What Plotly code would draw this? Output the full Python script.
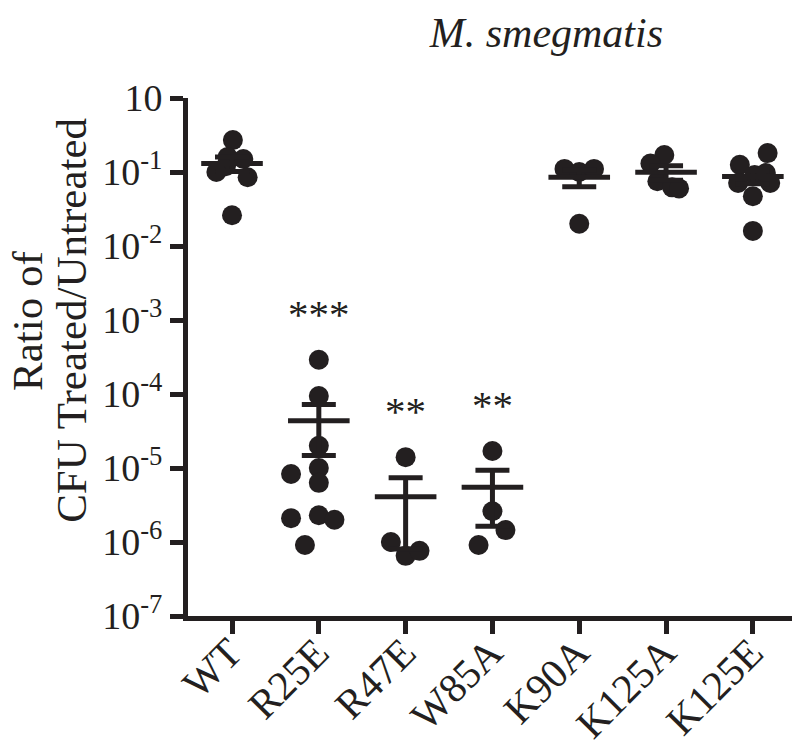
import numpy as np
import plotly.graph_objects as go

categories = ["WT", "R25E", "R47E", "W85A", "K90A", "K125A", "K125E"]

wt = [0.27, 0.16, 0.15, 0.12, 0.10, 0.085, 0.026]
r25e = [2.9e-4, 9.4e-5, 2.0e-5, 1.0e-5, 6.3e-6, 8.3e-6, 2.1e-6, 2.3e-6, 2.0e-6, 9.1e-7]
r47e = [1.4e-5, 1.0e-6, 6.5e-7, 7.6e-7]
w85a = [1.7e-5, 2.6e-6, 1.45e-6, 9.1e-7]
k90a = [0.11, 0.10, 0.11, 0.020]
k125a = [0.17, 0.13, 0.075, 0.062, 0.06]
k125e = [0.18, 0.125, 0.091, 0.097, 0.071, 0.071, 0.047, 0.016]

# horizontal scatter offsets (category units)
wt_off = [0.01, -0.05, 0.13, -0.07, -0.18, 0.18, 0.0]
r25e_off = [0.0, 0.0, 0.0, 0.0, 0.0, -0.32, -0.32, 0.0, 0.18, -0.16]
r47e_off = [0.0, -0.17, 0.0, 0.16]
w85a_off = [0.0, 0.0, 0.15, -0.16]
k90a_off = [-0.17, 0.0, 0.17, 0.0]
k125a_off = [-0.02, -0.18, -0.1, 0.07, 0.15]
k125e_off = [0.17, -0.15, 0.02, 0.15, -0.17, 0.2, 0.0, 0.0]

significance = ["", "***", "**", "**", "", "", ""]

ytick_vals = [1, 1e-1, 1e-2, 1e-3, 1e-4, 1e-5, 1e-6, 1e-7]
ytick_text = ["10", "10<sup>-1</sup>", "10<sup>-2</sup>", "10<sup>-3</sup>",
              "10<sup>-4</sup>", "10<sup>-5</sup>", "10<sup>-6</sup>", "10<sup>-7</sup>"]

ytitle_lines = ["Ratio of", "CFU Treated/Untreated"]

groups = [wt, r25e, r47e, w85a, k90a, k125a, k125e]
offsets = [wt_off, r25e_off, r47e_off, w85a_off, k90a_off, k125a_off, k125e_off]

INK = "#231f20"
FONT = "Liberation Serif, Times New Roman, serif"

fig = go.Figure()

xs, ys = [], []
for i, (vals, offs) in enumerate(zip(groups, offsets)):
    for v, o in zip(vals, offs):
        xs.append(i + o)
        ys.append(v)

fig.add_trace(go.Scatter(
    x=xs, y=ys, mode="markers",
    marker=dict(size=20, color=INK, line=dict(width=0)),
    cliponaxis=False, showlegend=False, hoverinfo="skip"))

means = [float(np.mean(g)) for g in groups]
sems = [float(np.std(g, ddof=1) / np.sqrt(len(g))) for g in groups]

fig.add_trace(go.Scatter(
    x=list(range(len(categories))), y=means, mode="markers",
    marker=dict(symbol="line-ew", size=44, color=INK,
                line=dict(width=5, color=INK)),
    error_y=dict(type="data", array=sems, arrayminus=sems,
                 color=INK, thickness=5, width=17),
    cliponaxis=False, showlegend=False, hoverinfo="skip"))

for i, s in enumerate(significance):
    if s:
        fig.add_annotation(
            x=i, y=np.log10(max(groups[i])) + 0.62, xref="x", yref="y",
            text=s, showarrow=False,
            font=dict(family=FONT, size=41, color=INK))

# two-line y-axis title, placed line by line
for line, xpos in zip(ytitle_lines, [-0.262, -0.19]):
    fig.add_annotation(
        text=line, textangle=-90,
        xref="paper", yref="paper", x=xpos, y=0.57,
        xanchor="center", yanchor="middle", showarrow=False,
        font=dict(family=FONT, size=43, color=INK))

fig.update_layout(
    width=800, height=749,
    margin=dict(l=180, r=10, t=90, b=141),
    paper_bgcolor="white", plot_bgcolor="white",
    font=dict(family=FONT, color=INK),
    title=dict(text="<i>M. smegmatis</i>", x=0.673, xref="container",
               xanchor="center", y=0.968, yref="container", yanchor="middle",
               font=dict(family=FONT, size=42, color=INK)),
    xaxis=dict(
        range=[-0.507, 6.52], tickmode="array", automargin=False,
        tickvals=list(range(len(categories))), ticktext=categories,
        tickangle=-45, ticks="outside", ticklen=13, tickwidth=5, tickcolor=INK,
        ticklabelstandoff=-22, ticklabelshift=-2,
        showline=True, linewidth=5, linecolor=INK, showgrid=False,
        zeroline=False, tickfont=dict(family=FONT, size=41, color=INK)),
    yaxis=dict(
        type="log", range=[-7, 0], tickmode="array", automargin=False,
        tickvals=ytick_vals, ticktext=ytick_text,
        ticks="outside", ticklen=13, tickwidth=5, tickcolor=INK,
        showline=True, linewidth=5, linecolor=INK, showgrid=False,
        zeroline=False, tickfont=dict(family=FONT, size=38, color=INK)),
)

fig.write_html("out.html")
